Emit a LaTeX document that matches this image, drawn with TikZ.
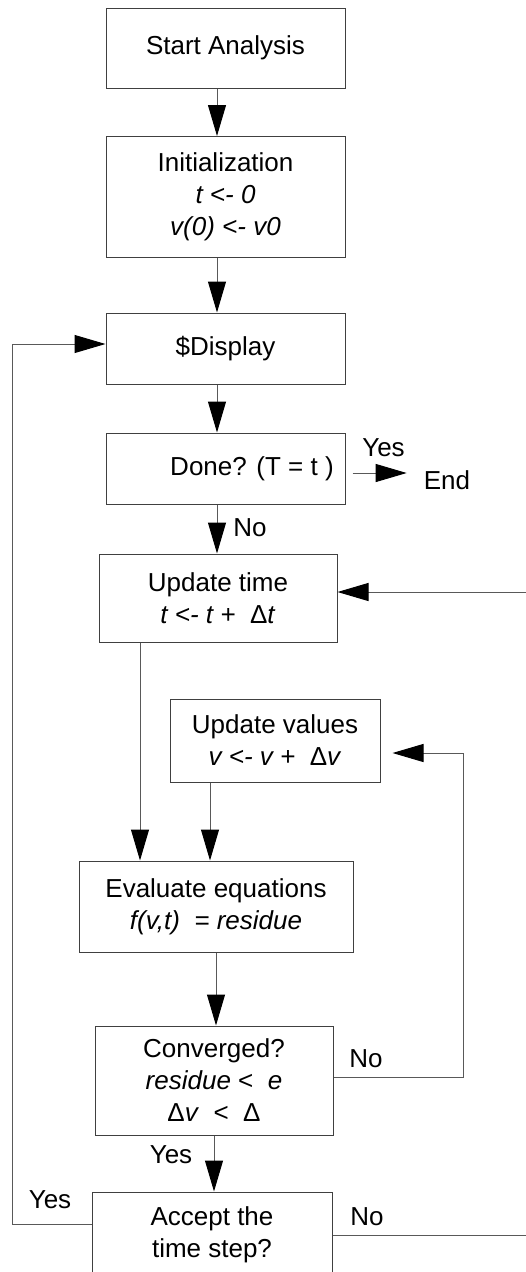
\documentclass[tikz,border=0pt]{standalone}
\usepackage{fontspec}
\setmainfont{Liberation Sans}
\usetikzlibrary{arrows.meta}

\begin{document}
\begin{tikzpicture}[
  x=1pt, y=-1pt,
  stepbox/.style={draw=black!75, line width=1pt, inner sep=0, align=center,
                  font=\fontsize{26}{32}\selectfont},
  flow/.style={draw=black!65, line width=1pt,
               -{Triangle[length=31pt, width=18pt, color=black, fill=black]}},
  lbl/.style={font=\fontsize{26}{32}\selectfont, inner sep=0}
]
\useasboundingbox (0,0) rectangle (526,1272);

%% ── Steps ─────────────────────────────────────────────────────────────────────

% ── Set-up (top band) ─────────────────────────────────────────────────────────

\node[stepbox, minimum width=239pt, minimum height=80pt] (start) at (225.5, 48) {%
  Start Analysis};

\node[stepbox, minimum width=239pt, minimum height=121pt] (init) at (225.5, 197) {%
  Initialization\\
  \textit{t <- 0}\\
  \textit{v(0) <- v0}};

\node[stepbox, minimum width=239pt, minimum height=71pt] (display) at (225.5, 348.5) {%
  \$Display};

\node[stepbox, minimum width=239pt, minimum height=71pt] (done) at (225.5, 468.5) {%
  \hspace*{53pt}Done? (T = t )};

\node[lbl] (end) at (447, 480) {End};

% ── Time step (middle band) ───────────────────────────────────────────────────

\node[stepbox, minimum width=238pt, minimum height=88pt] (uptime) at (218, 598) {%
  Update time\\
  \textit{t <- t +}\ \ Δ\textit{t}};

\node[stepbox, minimum width=210pt, minimum height=83pt] (upval) at (275, 740.5) {%
  Update values\\
  \textit{v <- v +}\ \ Δ\textit{v}};

\node[stepbox, minimum width=274pt, minimum height=91pt] (evaluate) at (216, 906.5) {%
  Evaluate equations\\
  \textit{f(v,t)\ \ = residue}};

% ── Checks (bottom band) ──────────────────────────────────────────────────────

\node[stepbox, minimum width=238pt, minimum height=109pt] (converged) at (214, 1080.5) {%
  Converged?\\
  \textit{residue} <\ \ \textit{e}\\
  Δ\textit{v}\ \ <\ \ Δ};

\node[stepbox, minimum width=240pt, minimum height=86pt] (accept) at (212, 1235) {%
  Accept the\\
  time step?};

\coordinate (rail) at (12, 1224);

%% ── Connectors ────────────────────────────────────────────────────────────────

% Main line down
\draw[flow] ([xshift=-8.5pt]start.south)   -- ([xshift=-8.5pt]init.north);
\draw[flow] ([xshift=-8.5pt]init.south)    -- ([xshift=-8.5pt]display.north);
\draw[flow] ([xshift=-8.5pt]display.south) -- ([xshift=-8.5pt]done.north);
\draw[flow] ([xshift=-8.5pt]done.south)    -- ([xshift=-8.5pt]done.south |- uptime.north);
\node[lbl] at (250, 528) {No};

% Done -> End
\draw[flow, shorten <=7pt, shorten >=17pt]
  ([yshift=-4.5pt]done.east) -- ([yshift=-4.5pt]done.east -| end.west);
\node[lbl] at (383.5, 448) {Yes};

% Into the equations
\draw[flow] ([xshift=-78pt]uptime.south) -- ([xshift=-78pt]uptime.south |- evaluate.north);
\draw[flow] ([xshift=-65pt]upval.south)  -- ([xshift=-65pt]upval.south |- evaluate.north);
\draw[flow] (evaluate.south) -- (evaluate.south |- converged.north);

% Converged?
\draw[flow, shorten >=12pt]
  ([yshift=3.5pt]converged.east) -- ++(130,0) |- ([yshift=-12.5pt]upval.east);
\node[lbl] at (366, 1059) {No};
\draw[flow] (converged.south) -- (converged.south |- accept.north);
\node[lbl] at (171, 1155) {Yes};

% Accept the time step?
\draw[flow] ([yshift=11pt]accept.west) -- (rail) |- ([yshift=4.5pt]display.west);
\node[lbl] at (50, 1200) {Yes};
\draw[flow] ([yshift=0pt]accept.east) -- ++(200,0) |- ([yshift=6pt]uptime.east);
\node[lbl] at (367, 1217) {No};

\end{tikzpicture}
\end{document}
